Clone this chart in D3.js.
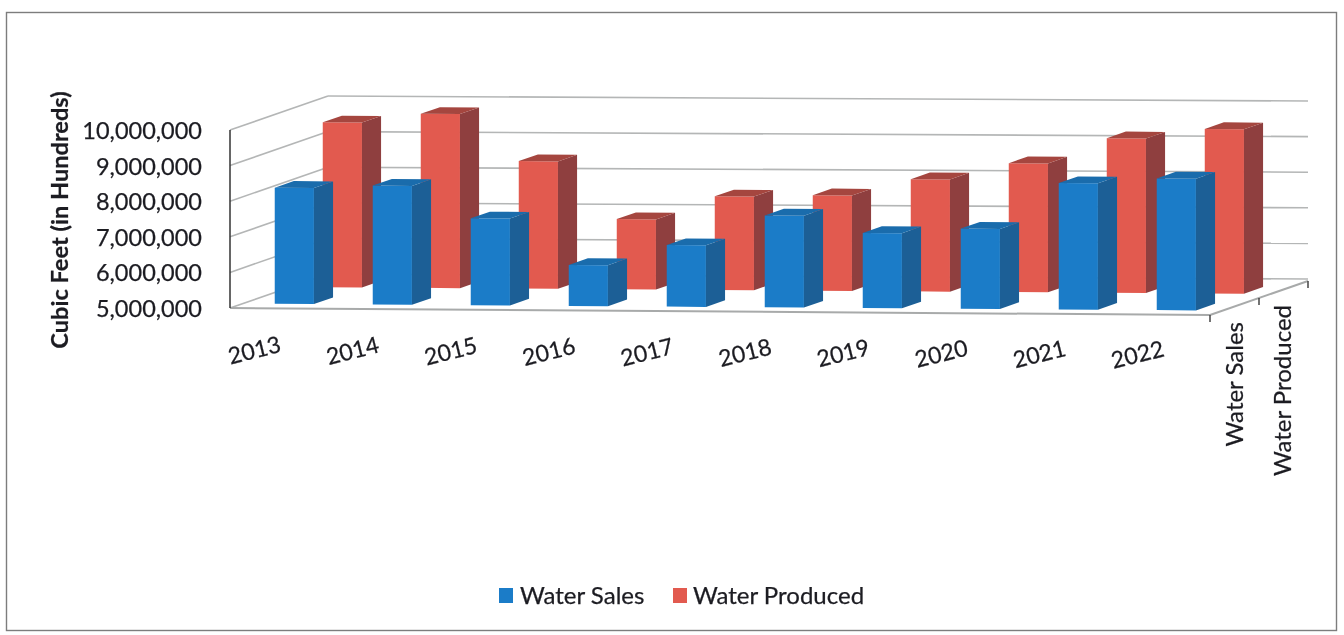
<!DOCTYPE html>
<html><head><meta charset="utf-8">
<script src="https://cdn.jsdelivr.net/npm/d3@7"></script>
<style>
html,body{margin:0;padding:0;background:#fff;overflow:hidden}
svg{filter:blur(.45px)}
text{font-family:Lato,"Open Sans",sans-serif;fill:#1c1c22;stroke:#1c1c22;stroke-width:.25px}
</style></head><body>
<svg id="c" width="1344" height="635"></svg>
<script>
const categories=["2013","2014","2015","2016","2017","2018","2019","2020","2021","2022"];
const waterSales=[8260000,8340000,7440000,6150000,6730000,7580000,7110000,7250000,8550000,8700000];
const waterProduced=[9630000,9890000,8580000,6970000,7630000,7680000,8150000,8620000,9340000,9620000];
const valueTicks=[5000000,6000000,7000000,8000000,9000000,10000000];
const seriesNames=["Water Sales","Water Produced"];
const seriesColors=[{front:"#1b7cc8",side:"#1c5f96",top:"#1a6cac"},{front:"#e25a4f",side:"#8f3f3f",top:"#a5463f"}];

const svg=d3.select("#c");
const L=230,B=308,W=980,TILT=7,DX=98,DY=-34,H=178;
const xBand=d3.scaleBand().domain(categories).range([0,W]).paddingInner(.6).paddingOuter(.3);
const yH=d3.scaleLinear().domain([5000000,10000000]).range([0,H]);
// projection: a = px along category axis, d = depth fraction, v = value
const P=(a,d,v)=>[L+a+DX*d, B+TILT*a/W+DY*d-yH(v)];
const pts=a=>a.map(p=>p.join(",")).join(" ");

svg.append("rect").attr("x",6.5).attr("y",12.5).attr("width",1330).attr("height",618)
  .attr("fill","#fff").attr("stroke","#7d7d7d").attr("stroke-width",1.4);

const grid=svg.append("g").attr("fill","none").attr("stroke","#b4b6b6").attr("stroke-width",1.6);
valueTicks.forEach(v=>{
  const line=(a,b)=>grid.append("line").attr("x1",a[0]).attr("y1",a[1]).attr("x2",b[0]).attr("y2",b[1]);
  line(P(0,0,v),P(0,1,v));
  line(P(0,1,v),[P(W,1,v)[0],P(W,1,v)[1]-2]);
});
// floor
grid.append("line").attr("x1",L).attr("y1",B).attr("x2",L+W).attr("y2",B+TILT).attr("stroke","#a8aaaa").attr("stroke-width",2);
grid.append("line").attr("x1",L+W).attr("y1",B+TILT).attr("x2",L+W+DX).attr("y2",B+TILT+DY).attr("stroke","#a8aaaa").attr("stroke-width",2);
// front wall edge and ticks
svg.append("line").attr("x1",L).attr("y1",P(0,0,10000000)[1]).attr("x2",L).attr("y2",B).attr("stroke","#333").attr("stroke-width",1.5);
[0,.5,1].forEach(d=>{
  const p=P(W,d,5000000);
  svg.append("line").attr("x1",p[0]).attr("y1",p[1]).attr("x2",p[0]).attr("y2",p[1]+7).attr("stroke","#444").attr("stroke-width",1.5);
});

// bars
const barDepth=.195, barWidth=xBand.bandwidth(), shift=2.6;
const seriesZ=[.13,.62];
[1,0].forEach(s=>{
  const vals=s===0?waterSales:waterProduced, col=seriesColors[s], z=seriesZ[s];
  const g=svg.append("g");
  categories.forEach((c,i)=>{
    const a0=xBand(c)+shift,a1=a0+barWidth,z1=z+barDepth,v=vals[i],f=5000000;
    g.append("polygon").attr("points",pts([P(a0,z,f),P(a1,z,f),P(a1,z,v),P(a0,z,v)])).attr("fill",col.front);
    g.append("polygon").attr("points",pts([P(a1,z,f),P(a1,z1,f),P(a1,z1,v),P(a1,z,v)])).attr("fill",col.side);
    g.append("polygon").attr("points",pts([P(a0,z,v),P(a1,z,v),P(a1,z1,v),P(a0,z1,v)])).attr("fill",col.top);
  });
});

// y axis labels
const yAxisScale=d3.scaleLinear().domain([5000000,10000000]).range([B,B-H]);
const yAxis=d3.axisLeft(yAxisScale).tickValues(valueTicks).tickFormat(d3.format(",")).tickSize(0).tickPadding(0);
const ga=svg.append("g").attr("transform","translate(202,1)").call(yAxis);
ga.select(".domain").remove();
ga.selectAll("text").attr("font-size",23.5).style("font-family","Lato,sans-serif");
svg.append("text").attr("transform","translate(68,220) rotate(-90)").attr("text-anchor","middle")
  .attr("font-size",23.6).attr("font-weight",700).text("Cubic Feet (in Hundreds)");

// category labels
categories.forEach((c,i)=>{
  svg.append("text").attr("transform",`translate(${xBand(c)+L-3},${358}) rotate(-14)`)
    .attr("y",i*.5).attr("text-anchor","middle").attr("font-size",23).text(c);
});
// series labels
[[1243,322],[1291,305]].forEach((p,i)=>{
  svg.append("text").attr("transform",`translate(${p[0]},${p[1]}) rotate(-90)`).attr("text-anchor","end")
    .attr("font-size",24).text(seriesNames[i]);
});
// legend
const legend=[[499,520],[673,693]];
seriesNames.forEach((n,i)=>{
  svg.append("rect").attr("x",legend[i][0]).attr("y",588).attr("width",14).attr("height",15).attr("fill",seriesColors[i].front);
  svg.append("text").attr("x",legend[i][1]).attr("y",604).attr("font-size",24).text(n);
});
</script></body></html>
